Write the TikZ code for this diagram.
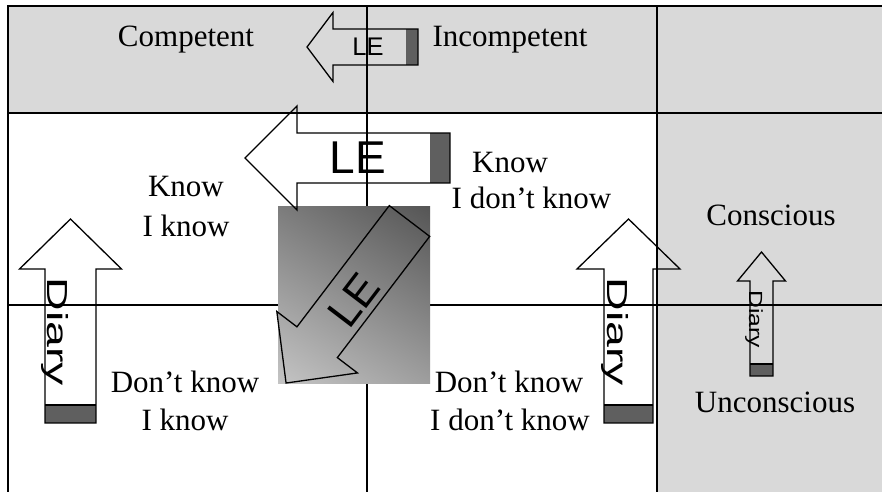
\documentclass[tikz,border=0pt]{standalone}
\usepackage{fontspec}
\setmainfont{Liberation Serif}
\newfontfamily\arrowfont{Liberation Sans}
\usetikzlibrary{shadings}

\definecolor{bandgray}{HTML}{D9D9D9}
\definecolor{bargray}{HTML}{5F5F5F}
\definecolor{shadeUL}{HTML}{7C7C7C}
\definecolor{shadeUR}{HTML}{555555}
\definecolor{shadeLL}{HTML}{C4C4C4}
\definecolor{shadeLR}{HTML}{9E9E9E}

% block arrow: tail point, direction angle, length, shaft half width,
% head half width, head length (local frame points along +x)
\newcommand\blockarrowpath[6]{%
  \begin{scope}[shift={#1}, rotate=#2]
    \draw[arrowline] (0,#4) -- ({#3-#6},#4) -- ({#3-#6},#5) -- (#3,0)
      -- ({#3-#6},-#5) -- ({#3-#6},-#4) -- (0,-#4) -- cycle;
  \end{scope}}
% dark band at the tail of a block arrow: tail point, angle, half width, band length
\newcommand\tailband[4]{%
  \begin{scope}[shift={#1}, rotate=#2]
    \fill[bargray] (0,-#3) rectangle (#4,#3);
  \end{scope}}
% same band with a heavy rule on its inner edge
\newcommand\tailbandruled[4]{%
  \begin{scope}[shift={#1}, rotate=#2]
    \fill[bargray] (0,-#3) rectangle (#4,#3);
    \draw[line width=2.6pt] (#4,-#3) -- (#4,#3);
  \end{scope}}

\tikzset{
  gridthick/.style={line width=2pt},
  gridthin/.style={line width=1.3pt},
  arrowline/.style={draw=black, line width=1.3pt, line join=miter},
  qlabel/.style={font=\fontsize{31}{37}\selectfont, inner sep=0pt, anchor=base},
  arrowtext/.style={inner sep=0pt},
}

\begin{document}
\begin{tikzpicture}[x=1pt, y=1pt]
  \useasboundingbox (0,0) rectangle (882,-492);
  \fill[white] (0,0) rectangle (882,-492);

  % shaded bands
  \fill[bandgray] (8,-6) rectangle (882,-113);
  \fill[bandgray] (657,-113) rectangle (882,-492);

  % grid
  \draw[gridthick] (882,-6) -- (8,-6) -- (8,-492);
  \draw[gridthick] (8,-113) -- (882,-113);
  \draw[gridthick] (657,-6) -- (657,-492);
  \draw[gridthin] (367,-6) -- (367,-492);
  \draw[gridthin] (8,-305) -- (882,-305);

  % shaded square in the centre
  \shade[upper left=shadeUL, upper right=shadeUR, lower left=shadeLL, lower right=shadeLR]
    (278,-206) rectangle (430,-383);

  % small LE arrow in the top band
  \tailband{(418,-47)}{180}{18}{12}
  \blockarrowpath{(418,-47)}{180}{111}{18}{34.5}{26}
  \node[arrowtext, font=\arrowfont\fontsize{25.5}{25.5}\selectfont] (leTop) at (368,-46.5) {LE};

  % large LE arrow
  \tailband{(450,-158)}{180}{25}{20}
  \blockarrowpath{(450,-158)}{180}{205}{25}{52}{52}
  \node[arrowtext, font=\arrowfont\fontsize{46}{46}\selectfont] (leBig) at (358,-158) {LE};

  % diagonal LE arrow across the shaded square
  \blockarrowpath{(409.5,-221)}{232.7}{203.7}{25.4}{50.7}{51.3}
  \node[arrowtext, rotate=52.7, font=\arrowfont\fontsize{44}{44}\selectfont] (leDiag) at (354,-300) {LE};

  % Diary arrows
  \tailbandruled{(70.5,-423)}{90}{25.5}{18}
  \blockarrowpath{(70.5,-423)}{90}{204}{25.5}{51}{50}
  \node[arrowtext, rotate=-90, anchor=base] (diaryLeft) at (47,-332)
    {\scalebox{1.6}[1]{\arrowfont\fontsize{29}{29}\selectfont Diary}};

  \tailbandruled{(628.5,-423)}{90}{24.5}{18}
  \blockarrowpath{(628.5,-423)}{90}{204}{24.5}{51.5}{50}
  \node[arrowtext, rotate=-90, anchor=base] (diaryRight) at (607,-332)
    {\scalebox{1.6}[1]{\arrowfont\fontsize{29}{29}\selectfont Diary}};

  \tailbandruled{(761.5,-376)}{90}{11.5}{12}
  \blockarrowpath{(761.5,-376)}{90}{124}{11.5}{24}{29}
  \node[arrowtext, rotate=-90, anchor=base] (diarySmall) at (749,-319)
    {\scalebox{1.3}[1]{\arrowfont\fontsize{19}{19}\selectfont Diary}};

  % labels
  \node[qlabel] (competent) at (186,-47) {Competent};
  \node[qlabel] (incompetent) at (510,-47) {Incompetent};
  \node[qlabel] (knowA) at (186,-196) {Know};
  \node[qlabel] (iknowA) at (186,-236) {I know};
  \node[qlabel] (knowB) at (510,-172) {Know};
  \node[qlabel] (idkB) at (531.5,-208) {I don’t know};
  \node[qlabel] (conscious) at (771,-225) {Conscious};
  \node[qlabel] (unconscious) at (775,-412) {Unconscious};
  \node[qlabel] (dkC) at (185,-392) {Don’t know};
  \node[qlabel] (iknowC) at (185,-430) {I know};
  \node[qlabel] (dkD) at (509,-392) {Don’t know};
  \node[qlabel] (idkD) at (510,-430) {I don’t know};
\end{tikzpicture}
\end{document}
